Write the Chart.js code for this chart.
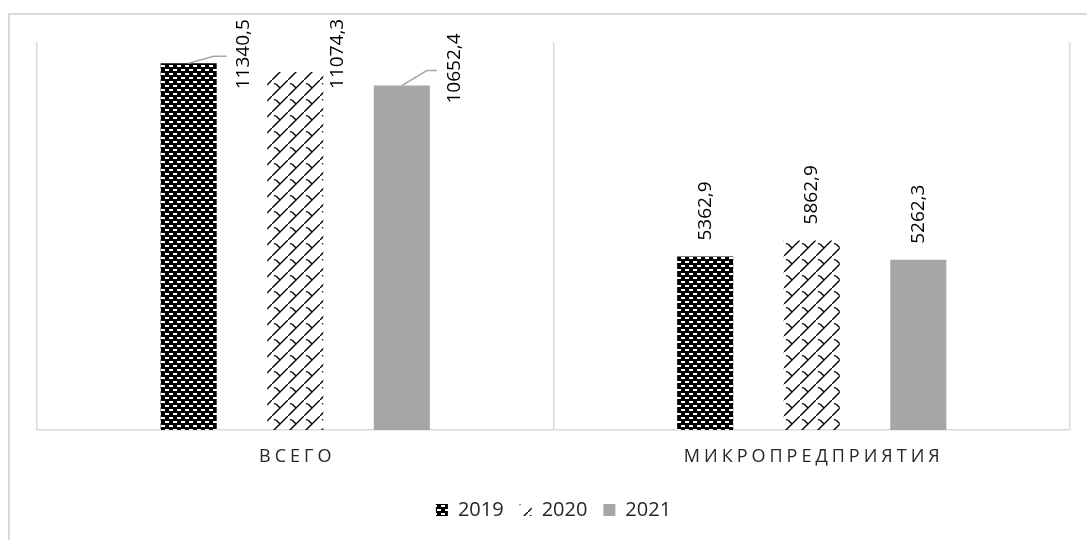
<!DOCTYPE html>
<html lang="ru">
<head>
<meta charset="utf-8">
<title>Всего и микропредприятия, 2019–2021</title>
<script src="https://cdn.jsdelivr.net/npm/chart.js@4.4.1/dist/chart.umd.min.js"></script>
<style>
    html, body { margin: 0; padding: 0; background: #fff; overflow: hidden; }
    #wrap { position: relative; width: 1087px; height: 540px; }
    #frame { position: absolute; left: 8px; top: 13px; width: 1200px; height: 700px; border: 2px solid #d9d9d9; }
    #wrap canvas { position: absolute; left: 0; top: 0; }
</style>
</head>
<body>
<div id="wrap">
    <div id="frame"></div>
    <canvas id="chart"></canvas>
</div>
<script>
// Данные
const categories = ['ВСЕГО', 'МИКРОПРЕДПРИЯТИЯ'];
const years = ['2019', '2020', '2021'];
const values2019 = [11340.5, 5362.9];
const values2020 = [11074.3, 5862.9];
const values2021 = [10652.4, 5262.3];

const canvas = document.getElementById('chart');
const fontFamily = '"Open Sans", sans-serif';

// Штриховки как в Excel
function makePattern(w, h, draw) {
    const c = document.createElement('canvas');
    c.width = w;
    c.height = h;
    draw(c.getContext('2d'), w, h);
    return canvas.getContext('2d').createPattern(c, 'repeat');
}

// 2019: чёрный фон с белыми чёрточками в шахматном порядке
const pattern2019 = makePattern(8, 8, (g) => {
    g.fillStyle = '#000';
    g.fillRect(0, 0, 8, 8);
    g.fillStyle = '#fff';
    g.fillRect(1, 1, 4, 2);
    g.fillRect(5, 5, 4, 2);
    g.fillRect(-3, 5, 4, 2);
});

// 2020: "черепица" - косые линии с короткими засечками
const pattern2020 = makePattern(16, 16, (g) => {
    g.strokeStyle = '#000';
    g.lineWidth = 1.4;
    g.beginPath();
    g.moveTo(-2, 18);
    g.lineTo(18, -2);
    g.moveTo(5, 5);
    g.lineTo(8, 8);
    g.moveTo(5, 5);
    g.quadraticCurveTo(3, 3, 2, 4);
    g.stroke();
});

const color2021 = '#a6a6a6';

// Положение подписей (смещения от вершины столбца), по умолчанию - над столбцом
const labelPlacement = [
    [{ dx: 55, dy: 26, lead: [25, -7, 38] }],
    [{ dx: 42, dy: 17 }],
    [{ dx: 53, dy: 18, lead: [25, -15, 35] }]
];

function fmt(v) {
    return v.toFixed(1).replace('.', ',');
}

const valueLabels = {
    id: 'valueLabels',
    afterDatasetsDraw(chart) {
        const ctx = chart.ctx;
        ctx.save();
        ctx.font = '19px ' + fontFamily;
        ctx.fillStyle = '#000';
        ctx.textAlign = 'left';
        ctx.textBaseline = 'middle';
        chart.data.datasets.forEach((ds, di) => {
            chart.getDatasetMeta(di).data.forEach((bar, i) => {
                const p = (labelPlacement[di] && labelPlacement[di][i]) || { dx: 0, dy: -16 };
                if (p.lead) {
                    ctx.strokeStyle = '#a6a6a6';
                    ctx.lineWidth = 1.5;
                    ctx.beginPath();
                    ctx.moveTo(bar.x, bar.y);
                    ctx.lineTo(bar.x + p.lead[0], bar.y + p.lead[1]);
                    ctx.lineTo(bar.x + p.lead[2], bar.y + p.lead[1]);
                    ctx.stroke();
                }
                ctx.save();
                ctx.translate(bar.x + p.dx, bar.y + p.dy);
                ctx.rotate(-Math.PI / 2);
                ctx.fillText(fmt(ds.data[i]), 0, 0);
                ctx.restore();
            });
        });
        ctx.restore();
    }
};

// Подписи категорий с разрядкой
const categoryLabels = {
    id: 'categoryLabels',
    afterDraw(chart) {
        const ctx = chart.ctx;
        const xs = chart.scales.x;
        ctx.save();
        ctx.font = '18px ' + fontFamily;
        ctx.fillStyle = '#262626';
        ctx.textAlign = 'center';
        ctx.textBaseline = 'middle';
        ctx.letterSpacing = '4px';
        categories.forEach((c, i) => {
            ctx.fillText(c, xs.getPixelForValue(i) + 2, xs.top + 27);
        });
        ctx.restore();
    }
};

new Chart(canvas, {
    type: 'bar',
    data: {
        labels: categories,
        datasets: [
            { label: years[0], data: values2019, backgroundColor: pattern2019 },
            { label: years[1], data: values2020, backgroundColor: pattern2020 },
            { label: years[2], data: values2021, backgroundColor: color2021 }
        ]
    },
    options: {
        responsive: true,
        maintainAspectRatio: false,
        animation: false,
        datasets: {
            bar: { categoryPercentage: 0.619, barPercentage: 0.526, borderWidth: 0 }
        },
        layout: { padding: { left: 37, right: 17, top: 42, bottom: 10 } },
        scales: {
            x: {
                grid: { offset: true, color: '#d9d9d9', lineWidth: 1.5, drawTicks: false },
                border: { color: '#d9d9d9', width: 1.5 },
                ticks: { display: false },
                afterFit(s) { s.height = 54; }
            },
            y: { display: false, min: 0, max: 12000 }
        },
        plugins: {
            tooltip: { enabled: false },
            legend: {
                position: 'bottom',
                labels: {
                    boxWidth: 12,
                    boxHeight: 12,
                    padding: 16,
                    color: '#262626',
                    font: { family: fontFamily, size: 20 }
                }
            }
        }
    },
    plugins: [valueLabels, categoryLabels]
});
</script>
</body>
</html>
